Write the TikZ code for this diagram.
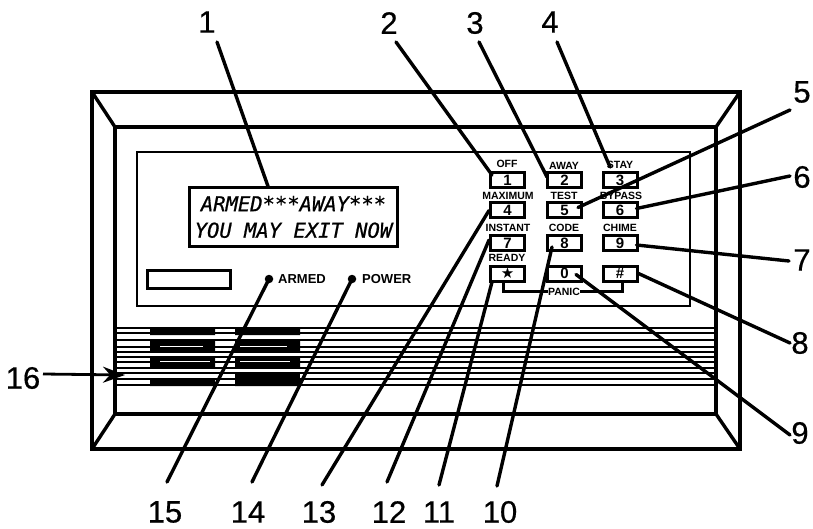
\documentclass[tikz,border=0pt]{standalone}
\usepackage{fontspec}
\setmainfont{Liberation Sans}
\newfontfamily\numfont{Liberation Sans}[FakeBold=0.5]
\newfontfamily\lcdfont{DejaVu Sans Mono}[FakeBold=0.7]
\newfontfamily\symfont{DejaVu Sans}
\usetikzlibrary{arrows.meta}
\tikzset{
num/.style={inner sep=0pt,font=\fontsize{31}{31}\selectfont\numfont},
keybox/.style={draw,line width=3pt,minimum width=34pt,minimum height=15pt,inner sep=0pt,font=\fontsize{15}{15}\selectfont\bfseries},
keytag/.style={inner sep=0pt,font=\fontsize{10.5}{10.5}\selectfont\bfseries},
ledtag/.style={inner sep=0pt,anchor=west,font=\fontsize{13}{13}\selectfont\bfseries},
led/.style={circle,fill,inner sep=0pt,minimum size=8.5pt},
leader/.style={line width=3.4pt,line cap=round},
vent/.style={line width=2.2pt},
}
\begin{document}
\begin{tikzpicture}[x=1pt,y=-1pt]
\useasboundingbox (0,0) rectangle (813,529);
% housing
\draw[line width=3.8pt] (92,92) rectangle (740,449);
\draw[line width=3.4pt] (115,127) rectangle (716,414);
\draw[line width=3.4pt] (92,92)--(115,127) (740,92)--(716,127) (92,449)--(115,414) (740,449)--(716,414);
\draw[line width=2.4pt] (137,152) rectangle (690,306);
% vent
\draw[vent] (116,328)--(715,328) (116,333)--(715,333) (116,340)--(715,340) (116,347)--(715,347)
(116,352)--(715,352) (116,357)--(715,357) (116,362)--(715,362) (116,368)--(715,368)
(116,373)--(715,373) (116,379)--(715,379) (116,385)--(715,385);
\fill (150,328) rectangle (215,335) (235,328) rectangle (300,335);
\fill (150,340) rectangle (215,351) (235,340) rectangle (300,351);
\fill (150,358) rectangle (215,368) (235,358) rectangle (300,368);
\fill (150,380) rectangle (215,386) (235,380) rectangle (300,386);
\fill (235,372) rectangle (300,378);
\draw[white,line width=1pt] (160,346.5)--(203,346.5) (240,346.5)--(287,346.5) (160,361.5)--(210,361.5) (240,361.5)--(290,361.5);
% display and lamps
\node (disp) at (293.5,217) [draw,line width=2.4pt,minimum width=208pt,minimum height=59pt,inner sep=0pt,align=center,font=\fontsize{20.5}{26.5}\selectfont\lcdfont\itshape] {ARMED***AWAY***\\YOU MAY EXIT NOW};
\node (slot) at (189,279.5) [draw,line width=2.2pt,minimum width=83pt,minimum height=18pt] {};
\node (ledarmed) at (269,279) [led] {};
\node (ledpower) at (352,279) [led] {};
\node (armed) at (278,279) [ledtag] {ARMED};
\node (power) at (362,279) [ledtag] {POWER};
% keys
\node (key1) at (507.5,180) [keybox] {1};
\node (key2) at (564.5,180) [keybox] {2};
\node (key3) at (620,180) [keybox] {3};
\node (key4) at (507.5,210.5) [keybox] {4};
\node (key5) at (564.5,210.5) [keybox] {5};
\node (key6) at (620,210.5) [keybox] {6};
\node (key7) at (507.5,243) [keybox] {7};
\node (key8) at (564.5,243) [keybox] {8};
\node (key9) at (620,243) [keybox] {9};
\node (keystar) at (507.5,273.5) [keybox] {\symfont ★};
\node (key0) at (564.5,273.5) [keybox] {0};
\node (keyhash) at (620,273.5) [keybox] {\#};
\node (off) at (507,164) [keytag] {OFF};
\node (away) at (564,165.5) [keytag] {AWAY};
\node (stay) at (620,165) [keytag] {STAY};
\node (maximum) at (508,195.5) [keytag] {MAXIMUM};
\node (test) at (564,196) [keytag] {TEST};
\node (bypass) at (621,195.5) [keytag] {BYPASS};
\node (instant) at (508,228) [keytag] {INSTANT};
\node (code) at (564,228) [keytag] {CODE};
\node (chime) at (620,227.5) [keytag] {CHIME};
\node (ready) at (507,258) [keytag] {READY};
\node (panic) at (564,291.5) [keytag] {PANIC};
\draw[line width=3pt] (panic.west) -| ([xshift=-4pt]keystar.south);
\draw[line width=3pt] (panic.east) -| ([xshift=2pt]keyhash.south);
% numbers
\node (num1) at (207,22) [num] {1};
\node (num2) at (389,23) [num] {2};
\node (num3) at (475,23) [num] {3};
\node (num4) at (550,22) [num] {4};
\node (num5) at (802,92) [num] {5};
\node (num6) at (802,177) [num] {6};
\node (num7) at (802,260) [num] {7};
\node (num8) at (800,343) [num] {8};
\node (num9) at (800,433) [num] {9};
\node (num10) at (500,512) [num] {10};
\node (num11) at (439,512) [num] {11};
\node (num12) at (389,512) [num] {12};
\node (num13) at (319,512) [num] {13};
\node (num14) at (248,512) [num] {14};
\node (num15) at (165,512) [num] {15};
\node (num16) at (23,378) [num] {16};
% leaders
\coordinate (lead1) at (217,42);
\coordinate (lead2) at (396,42);
\coordinate (lead3) at (479,42);
\coordinate (lead4) at (557,42);
\coordinate (lead5) at (790,110);
\coordinate (lead6) at (790,176);
\coordinate (lead7) at (789,261);
\coordinate (lead8) at (790,343);
\coordinate (lead9) at (790,435);
\coordinate (lead10) at (497,486);
\coordinate (lead11) at (439,485);
\coordinate (lead12) at (387,482);
\coordinate (lead13) at (322,485);
\coordinate (lead14) at (252,482);
\coordinate (lead15) at (167,482);
\coordinate (lead16) at (43,374);
\draw[leader] (lead1) -- ([xshift=-25.5pt]disp.north);
\draw[leader] (lead2) -- ([shift={(3,-5)}]key1.west);
\draw[leader] (lead3) -- ([shift={(1,-3)}]key2.west);
\draw[leader] (lead4) -- ([shift={(-10,-4)}]key3.north);
\draw[leader] (lead5) -- ([shift={(-5,-3)}]key5.east);
\draw[leader] (lead6) -- ([shift={(-2,-2)}]key6.east);
\draw[leader] (lead7) -- ([shift={(-2,2)}]key9.east);
\draw[leader] (lead8) -- (keyhash.east);
\draw[leader] (lead9) -- ([shift={(-7,1)}]key0.east);
\draw[leader] (lead10) -- ([shift={(6,4)}]key8.west);
\draw[leader] (lead11) -- ([shift={(3,8.5)}]keystar.west);
\draw[leader] (lead12) -- ([shift={(0,-3)}]key7.west);
\draw[leader] (lead13) -- (key4.west);
\draw[leader] (lead14) -- (ledpower.center);
\draw[leader] (lead15) -- (ledarmed.center);
\draw[line width=2.8pt,-{Stealth[length=22pt,width=16pt]}] (lead16) -- (125,375);
\end{tikzpicture}
\end{document}
